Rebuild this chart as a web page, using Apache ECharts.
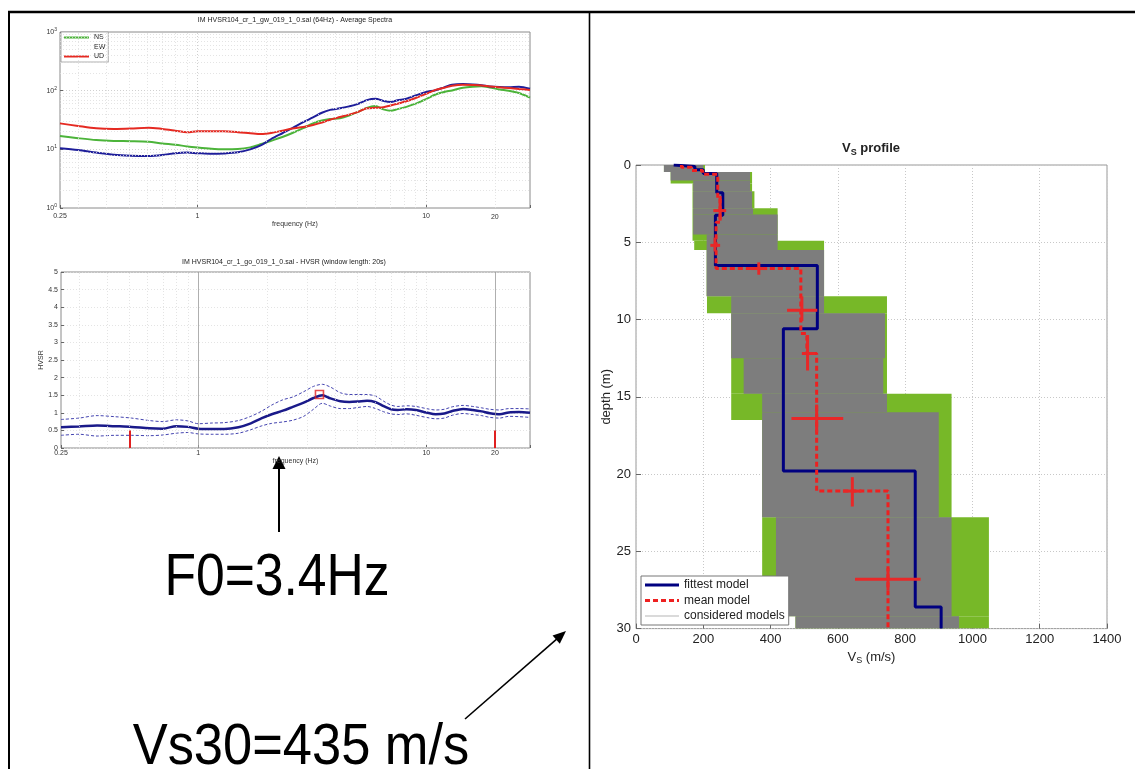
<!DOCTYPE html>
<html><head><meta charset="utf-8">
<script src="https://cdn.jsdelivr.net/npm/echarts@6/dist/echarts.min.js"></script>
<style>html,body{margin:0;padding:0;background:#fff;}#c{width:1135px;height:769px;}</style>
</head><body><div id="c"></div>
<script>
// ---------- spectra / HVSR (frequency grid in Hz) ----------
const freq = [0.25,0.30,0.36,0.43,0.51,0.61,0.70,0.80,0.90,1.0,1.15,1.3,1.5,1.7,1.9,2.1,2.35,2.6,2.9,3.2,3.5,3.8,4.2,4.6,5.0,5.5,6.0,6.5,7.0,7.5,8.2,9.0,10,11,12,13,14.5,16,17.5,19,21,23,25.5,28.5];
const specNS = [16.9,15.5,14.4,13.9,13.8,13.5,12.6,12.0,11.2,10.7,10.2,10.0,10.1,10.8,12.3,14.0,16.2,19.0,23.0,27.7,31.0,32.8,33.8,37.5,43,51,54.7,48,45.5,48.5,53,60,72,86,95,101,112,117,119,113,105,100,91,76];
const specEW = [10.4,9.7,8.8,8.1,7.8,7.7,8.0,8.6,8.8,8.6,8.4,8.5,8.9,10.0,11.8,15.0,18.8,23,29,35,42,47,50,54,59,69,73,67,64,68.5,73,83,95,102,114,126,130,128,124,118,115,114,117,108];
const specUD = [27.7,25.0,22.8,22.2,22.6,23.4,22.3,20.8,19.5,20.3,20.4,20.3,19.6,18.8,18.2,19.0,20.8,22.6,24.0,26.0,28.5,32,35.5,39,43,50,51,52,56,60,66,75,88,103,112,121,126,125,123,118,114,111,107,103];
const hvMean  = [0.59,0.61,0.64,0.62,0.60,0.56,0.55,0.62,0.60,0.55,0.54,0.54,0.59,0.70,0.85,0.96,1.06,1.17,1.29,1.42,1.50,1.41,1.33,1.31,1.32,1.34,1.30,1.19,1.10,1.08,1.10,1.08,1.01,0.96,0.98,1.05,1.11,1.08,1.04,0.99,0.96,1.01,1.02,1.00];
const hvUpper = [0.81,0.85,0.92,0.89,0.85,0.78,0.75,0.80,0.77,0.69,0.71,0.72,0.78,0.90,1.05,1.22,1.37,1.45,1.60,1.75,1.81,1.73,1.57,1.52,1.52,1.52,1.47,1.33,1.22,1.18,1.20,1.18,1.12,1.08,1.10,1.17,1.21,1.18,1.14,1.10,1.08,1.12,1.12,1.11];
const hvLower = [0.36,0.39,0.34,0.36,0.36,0.35,0.37,0.42,0.44,0.40,0.39,0.39,0.42,0.52,0.63,0.70,0.74,0.79,0.90,1.10,1.27,1.19,1.12,1.12,1.15,1.18,1.12,1.03,0.97,0.95,0.97,0.93,0.87,0.83,0.85,0.93,0.98,0.95,0.92,0.87,0.85,0.90,0.89,0.87];
const peakFreq = 3.4, peakHV = 1.52;
const limitFreqs = [0.5, 20], limitHeight = 0.5;
// grid / tick positions
const freqMinor = [0.3,0.4,0.5,0.6,0.7,0.8,0.9,2,3,4,5,6,7,8,9,20];
const freqMajor = [1,10];
const ampMinor = [2,3,4,5,6,7,8,9,20,30,40,50,60,70,80,90,200,300,400,500,600,700,800,900];
const extraFreqLabel = 20;

// ---------- Vs profile ----------
const greenTop = [0,0.45,1.2,1.7,2.8,4.9,5.5,8.5,9.6,14.8,16.5,22.8,29.2];
const greenBot = [0.45,1.2,1.7,2.8,4.9,5.5,8.5,9.6,14.8,16.5,22.8,29.2,30];
const greenMin = [83,103,168,168,168,173,210,211,283,283,375,375,474];
const greenMax = [205,345,345,352,421,559,559,746,746,938,938,1049,1049];
const grayTop = [0,0.45,1.0,1.7,2.8,3.2,4.5,5.5,8.5,9.6,12.5,14.8,16.0,22.8,29.2];
const grayBot = [0.45,1.0,1.7,2.8,3.2,4.5,5.5,8.5,9.6,12.5,14.8,16.0,22.8,29.2,30];
const grayMin = [83,103,170,170,170,170,210,210,283,283,320,375,375,416,474];
const grayMax = [200,339,339,345,348,421,421,559,559,740,735,746,900,938,960];
const fitBounds = [0,0.1,0.3,0.55,1.8,3.25,6.5,10.6,19.8,28.6,30];
const fitVs = [112,175,200,240,258,236,539,438,830,907];
const meanBounds = [0,0.15,0.35,0.6,2.2,3.7,6.7,10.9,12.2,21.1,30];
const meanVs = [135,165,198,243,250,238,490,508,537,749];
const errVs    = [250,235,365,493,510,537,643,749];
const errDepth = [2.95,5.2,6.7,9.4,12.2,16.4,21.1,26.8];
const errVsLo  = [230,221,340,449,493,462,615,651];
const errVsHi  = [268,250,390,539,533,616,670,846];
const errDLo   = [2.0,4.7,6.3,8.5,11.0,15.5,20.2,26.1];
const errDHi   = [3.6,5.6,7.1,10.1,13.3,17.3,22.1,27.5];

function stepPoints(bounds, vs){
  const pts=[];
  for(let i=0;i<vs.length;i++){ pts.push([vs[i],bounds[i]]); pts.push([vs[i],bounds[i+1]]); }
  return pts;
}
const zip = (a,b)=>a.map((v,i)=>[v,b[i]]);

const FONT = 'Liberation Sans, Arial, sans-serif';
const small = {fontSize:7, color:'#333', fontFamily:FONT};
const minorLine = {color:'#dddddd', type:[1,2], width:0.8};
const majorLine = {color:'#c4c4c4', type:[1,2], width:0.8};

function rectRender(color){
  return function(params, api){
    const p1 = api.coord([api.value(2), api.value(0)]);
    const p2 = api.coord([api.value(3), api.value(1)]);
    return {type:'rect', shape:{x:Math.min(p1[0],p2[0]), y:Math.min(p1[1],p2[1]), width:Math.abs(p2[0]-p1[0]), height:Math.abs(p2[1]-p1[1])}, style:{fill:color}};
  };
}
function gridMarks(xs, ys, style){
  return {silent:true, symbol:'none', label:{show:false}, lineStyle:style, animation:false,
    data: xs.map(v=>({xAxis:v})).concat(ys.map(v=>({yAxis:v})))};
}

const chart = echarts.init(document.getElementById('c'), null, {renderer:'canvas'});
const logLabel = v => (v < 0.3 ? '0.25' : (v > 25 ? '' : String(Math.round(v))));

const ICON_THIN = 'path://M0,0h25v2h-25z';
const ICON_FIT = 'path://M0,0h34v3h-34z';
const ICON_MEAN = 'path://M0,0h5v3h-5z M8,0h5v3h-5z M16,0h5v3h-5z M24,0h5v3h-5z M32,0h2v3h-2z';
const ICON_CONS = 'path://M0,0h34v1h-34z';

const option = {
  animation:false,
  backgroundColor:'#fff',
  title:[
    {text:'IM HVSR104_cr_1_gw_019_1_0.sal (64Hz) - Average Spectra', left:295, top:17, textAlign:'center', padding:0, textStyle:{fontSize:7, fontWeight:'normal', color:'#222', fontFamily:FONT}},
    {text:'IM HVSR104_cr_1_go_019_1_0.sal - HVSR (window length: 20s)', left:284, top:259, textAlign:'center', padding:0, textStyle:{fontSize:7, fontWeight:'normal', color:'#222', fontFamily:FONT}},
    {text:'V{s|S} profile', left:871, top:140, textAlign:'center', padding:0, textStyle:{fontSize:13, fontWeight:'bold', color:'#222', fontFamily:FONT, rich:{s:{fontSize:9, fontWeight:'bold', padding:[8,0,0,0], fontFamily:FONT}}}}
  ],
  legend:[
    {data:[{name:'NS', icon:ICON_THIN},{name:'EW', icon:ICON_THIN, itemStyle:{opacity:0}},{name:'UD', icon:ICON_THIN}], left:61, top:32, orient:'vertical', itemWidth:25, itemHeight:6, itemGap:2.5, padding:[2,3,2,3],
     backgroundColor:'#fff', borderColor:'#999', borderWidth:0.8, borderRadius:0, textStyle:{fontSize:7, color:'#222', fontFamily:FONT}, selectedMode:false},
    {data:[{name:'fittest model', icon:ICON_FIT},{name:'mean model', icon:ICON_MEAN},{name:'considered models', icon:ICON_CONS, itemStyle:{color:'#b5b5b5'}}], left:641, top:576, orient:'vertical', itemWidth:34, itemHeight:10, itemGap:3.5, padding:[3,4,3,4],
     backgroundColor:'#fff', borderColor:'#777', borderWidth:1, borderRadius:0, textStyle:{fontSize:12, color:'#222', fontFamily:FONT}, selectedMode:false}
  ],
  grid:[
    {left:60, width:470, top:32, height:176, show:true, borderColor:'#8a8a8a', borderWidth:1, backgroundColor:'#fff'},
    {left:61, width:469, top:272, height:176, show:true, borderColor:'#8a8a8a', borderWidth:1, backgroundColor:'#fff'},
    {left:636, width:471, top:165, height:463.6, show:true, borderColor:'#999', borderWidth:1, backgroundColor:'#fff'}
  ],
  xAxis:[
    {gridIndex:0, type:'log', logBase:10, min:0.25, max:28.5, name:'frequency (Hz)', nameLocation:'middle', nameGap:12, nameTextStyle:small,
     axisLine:{show:false, onZero:false}, axisTick:{inside:true, length:3, lineStyle:{color:'#666'}}, axisLabel:Object.assign({margin:5, formatter:logLabel}, small),
     splitLine:{show:false}},
    {gridIndex:1, type:'log', logBase:10, min:0.25, max:28.5, name:'frequency (Hz)', nameLocation:'middle', nameGap:9, nameTextStyle:small,
     axisLine:{show:false, onZero:false}, axisTick:{inside:true, length:3, lineStyle:{color:'#666'}}, axisLabel:Object.assign({margin:2, formatter:logLabel}, small),
     splitLine:{show:false}},
    {gridIndex:2, type:'value', min:0, max:1400, interval:200, name:'V{s|S} (m/s)', nameLocation:'middle', nameGap:19,
     nameTextStyle:{fontSize:13, color:'#222', fontFamily:FONT, rich:{s:{fontSize:9, padding:[8,0,0,0], fontFamily:FONT}}},
     axisLine:{show:false, onZero:false}, axisTick:{inside:true, length:5, lineStyle:{color:'#666'}}, axisLabel:{margin:4, fontSize:13, color:'#222', fontFamily:FONT, formatter:v=>String(v)},
     splitLine:{show:true, lineStyle:{color:'#c8c8c8', type:[1,2], width:1}}}
  ],
  yAxis:[
    {gridIndex:0, type:'log', logBase:10, min:1, max:1000,
     axisLine:{show:false, onZero:false}, axisTick:{inside:true, length:3, lineStyle:{color:'#666'}},
     axisLabel:Object.assign({margin:3, formatter:v=>'10{e|'+Math.round(Math.log10(v))+'}', rich:{e:{fontSize:5, padding:[0,0,5,0], color:'#333'}}}, small),
     splitLine:{show:true, lineStyle:majorLine}},
    {gridIndex:1, type:'value', min:0, max:5, interval:0.5, name:'HVSR', nameLocation:'middle', nameGap:14, nameTextStyle:small,
     axisLine:{show:false, onZero:false}, axisTick:{inside:true, length:3, lineStyle:{color:'#666'}}, axisLabel:Object.assign({margin:3}, small),
     splitLine:{show:true, lineStyle:minorLine}},
    {gridIndex:2, type:'value', min:0, max:30, interval:5, inverse:true, name:'depth (m)', nameLocation:'middle', nameGap:21,
     nameTextStyle:{fontSize:13, color:'#222', fontFamily:FONT},
     axisLine:{show:false, onZero:false}, axisTick:{inside:true, length:5, lineStyle:{color:'#666'}}, axisLabel:{margin:5, fontSize:13, color:'#222', fontFamily:FONT},
     splitLine:{show:true, lineStyle:{color:'#c8c8c8', type:[1,2], width:1}}}
  ],
  series:[
    // --- average spectra ---
    {name:'NS', type:'line', xAxisIndex:0, yAxisIndex:0, data:zip(freq,specNS), symbol:'none', smooth:0.3, lineStyle:{color:'#4cb43a', width:2}, itemStyle:{color:'#4cb43a'},
     markLine:gridMarks(freqMinor, ampMinor, minorLine)},
    {name:'EW', type:'line', xAxisIndex:0, yAxisIndex:0, data:zip(freq,specEW), symbol:'none', smooth:0.3, lineStyle:{color:'#1e1e9a', width:2}, itemStyle:{color:'#1e1e9a'},
     markLine:gridMarks(freqMajor, [], majorLine)},
    {name:'UD', type:'line', xAxisIndex:0, yAxisIndex:0, data:zip(freq,specUD), symbol:'none', smooth:0.3, lineStyle:{color:'#e52a22', width:2}, itemStyle:{color:'#e52a22'}},
    // --- HVSR ---
    {name:'HVupper', type:'line', xAxisIndex:1, yAxisIndex:1, data:zip(freq,hvUpper), symbol:'none', smooth:0.3, lineStyle:{color:'#4444b0', width:1, type:[3,2]},
     markLine:gridMarks(freqMinor.filter(v=>v!==20), [], minorLine)},
    {name:'HVlower', type:'line', xAxisIndex:1, yAxisIndex:1, data:zip(freq,hvLower), symbol:'none', smooth:0.3, lineStyle:{color:'#4444b0', width:1, type:[3,2]},
     markLine:gridMarks([1,20], [], {color:'#9a9a9a', type:'solid', width:0.8})},
    {name:'HVmean', type:'line', xAxisIndex:1, yAxisIndex:1, data:zip(freq,hvMean), symbol:'none', smooth:0.3, lineStyle:{color:'#1a1a8a', width:2.5},
     markLine:gridMarks([10], [], minorLine)},
    {name:'peak', type:'scatter', xAxisIndex:1, yAxisIndex:1, data:[[peakFreq,peakHV]], symbol:'rect', symbolSize:8, z:5,
     itemStyle:{color:'rgba(0,0,0,0)', borderColor:'#e02020', borderWidth:1.6},
     markLine:{silent:true, symbol:'none', label:{show:false}, lineStyle:{color:'#e02020', width:2, type:'solid'},
       data: limitFreqs.map(f=>[{coord:[f,0]},{coord:[f,limitHeight]}])}},
    // --- Vs profile ---
    {name:'other models', type:'custom', xAxisIndex:2, yAxisIndex:2, renderItem:rectRender('#77b828'), encode:{x:[2,3], y:[0,1]},
     data: greenTop.map((t,i)=>[t, greenBot[i], greenMin[i], greenMax[i]]), z:2, clip:true},
    {name:'considered models', type:'custom', xAxisIndex:2, yAxisIndex:2, renderItem:rectRender('#7d7d7d'), encode:{x:[2,3], y:[0,1]},
     itemStyle:{color:'#b5b5b5'},
     data: grayTop.map((t,i)=>[t, grayBot[i], grayMin[i], grayMax[i]]), z:3, clip:true},
    {name:'fittest model', type:'line', xAxisIndex:2, yAxisIndex:2, data:stepPoints(fitBounds, fitVs), symbol:'none', z:4,
     lineStyle:{color:'#000080', width:3}, itemStyle:{color:'#000080'}},
    {name:'mean model', type:'line', xAxisIndex:2, yAxisIndex:2, data:stepPoints(meanBounds, meanVs), symbol:'none', z:5,
     lineStyle:{color:'#ee2020', width:3, type:[5,3]}, itemStyle:{color:'#ee2020'}},
    {name:'errors', type:'custom', xAxisIndex:2, yAxisIndex:2, z:6, encode:{x:[0,2,3], y:[1,4,5]},
     data: errVs.map((v,i)=>[v, errDepth[i], errVsLo[i], errVsHi[i], errDLo[i], errDHi[i]]),
     renderItem:(params, api)=>{
       const l = api.coord([api.value(2), api.value(1)]);
       const r = api.coord([api.value(3), api.value(1)]);
       const t = api.coord([api.value(0), api.value(4)]);
       const b = api.coord([api.value(0), api.value(5)]);
       return {type:'group', children:[
         {type:'line', shape:{x1:l[0],y1:l[1],x2:r[0],y2:r[1]}, style:{stroke:'#e82828', lineWidth:3}},
         {type:'line', shape:{x1:t[0],y1:t[1],x2:b[0],y2:b[1]}, style:{stroke:'#e82828', lineWidth:3}}
       ]};
     }}
  ]
};
chart.setOption(option);

// extra "20" tick labels placed through the axis scales
const p20a = chart.convertToPixel({xAxisIndex:0}, extraFreqLabel);
const p20b = chart.convertToPixel({xAxisIndex:1}, extraFreqLabel);
function arrowHead(tip, dir, len, half){
  const bx = tip[0]-dir[0]*len, by = tip[1]-dir[1]*len;
  const px = -dir[1], py = dir[0];
  return [[tip[0],tip[1]],[bx+px*half, by+py*half],[bx-px*half, by-py*half]];
}
const d2len = Math.hypot(566-465, 631-719);
const d2 = [(566-465)/d2len, (631-719)/d2len];
chart.setOption({graphic:[
  {type:'text', x:p20a, y:216.6, style:{text:String(extraFreqLabel), fontSize:7, fontFamily:FONT, fill:'#333', align:'center', verticalAlign:'middle'}},
  {type:'text', x:p20b, y:453.5, style:{text:String(extraFreqLabel), fontSize:7, fontFamily:FONT, fill:'#333', align:'center', verticalAlign:'middle'}},
  {type:'line', shape:{x1:8, y1:12, x2:1135, y2:12}, style:{stroke:'#000', lineWidth:2.5}},
  {type:'line', shape:{x1:9, y1:12, x2:9, y2:769}, style:{stroke:'#000', lineWidth:2}},
  {type:'line', shape:{x1:589.5, y1:12, x2:589.5, y2:769}, style:{stroke:'#000', lineWidth:1.6}},
  {type:'text', x:277, y:578, scaleX:0.86, style:{text:'F0=3.4Hz', fontSize:60, fontFamily:FONT, fill:'#000', align:'center', verticalAlign:'middle'}},
  {type:'text', x:301, y:748.5, scaleX:0.92, style:{text:'Vs30=435 m/s', fontSize:57, fontFamily:FONT, fill:'#000', align:'center', verticalAlign:'middle'}},
  {type:'line', shape:{x1:279, y1:532, x2:279, y2:466}, style:{stroke:'#000', lineWidth:2}},
  {type:'polygon', shape:{points:arrowHead([279,456],[0,-1],13,6.5)}, style:{fill:'#000'}},
  {type:'line', shape:{x1:465, y1:719, x2:566-d2[0]*12, y2:631-d2[1]*12}, style:{stroke:'#000', lineWidth:1.6}},
  {type:'polygon', shape:{points:arrowHead([566,631],d2,13,5.5)}, style:{fill:'#000'}}
]});
</script></body></html>
